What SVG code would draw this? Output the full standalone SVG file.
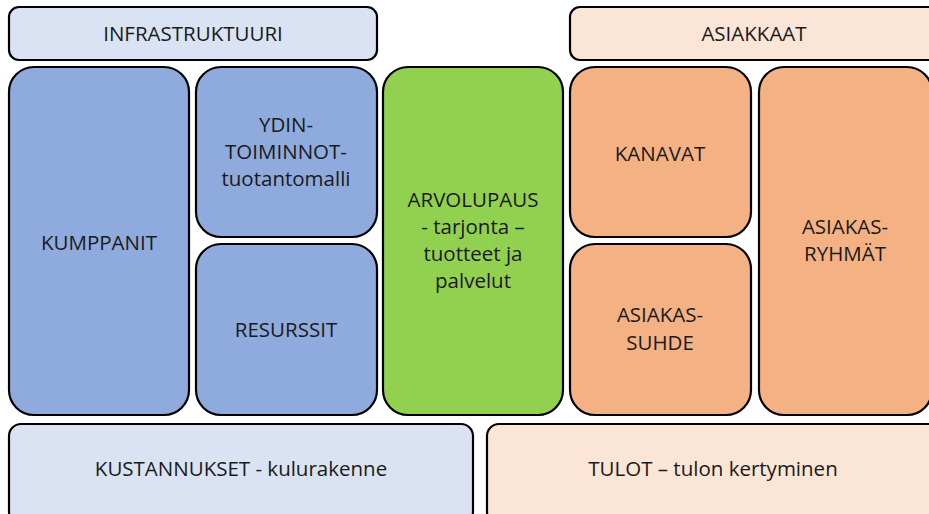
<svg xmlns="http://www.w3.org/2000/svg" width="929" height="514" viewBox="0 0 929 514">
<style>
rect{stroke:#000;stroke-width:2.2}
.lb{fill:#DAE3F3}.bl{fill:#8FAADC}.gr{fill:#92D050}.or{fill:#F4B183}.pe{fill:#FBE5D6}
text{font-family:"Open Sans","Liberation Sans",sans-serif;font-size:20.5px;fill:#1a1a1a;text-anchor:middle}
</style>
<rect width="929" height="514" fill="#fff" style="stroke:none"/>
<g id="infrastruktuuri"><rect class="lb" x="9" y="7" width="368" height="53" rx="10"/><text x="193" y="41">INFRASTRUKTUURI</text></g>
<g id="asiakkaat"><rect class="pe" x="570" y="7" width="372" height="53" rx="10"/><text x="754" y="41">ASIAKKAAT</text></g>
<g id="kumppanit"><rect class="bl" x="9" y="67" width="180" height="348" rx="25"/><text x="99" y="250">KUMPPANIT</text></g>
<g id="ydintoiminnot"><rect class="bl" x="196" y="67" width="181" height="170" rx="25"/><text x="286" y="132">YDIN-</text><text x="286" y="159">TOIMINNOT-</text><text x="286" y="186">tuotantomalli</text></g>
<g id="resurssit"><rect class="bl" x="196" y="244" width="181" height="171" rx="25"/><text x="286" y="337">RESURSSIT</text></g>
<g id="arvolupaus"><rect class="gr" x="383" y="67" width="180" height="348" rx="25"/><text x="473" y="207">ARVOLUPAUS</text><text x="473" y="234">- tarjonta –</text><text x="473" y="261">tuotteet ja</text><text x="473" y="288">palvelut</text></g>
<g id="kanavat"><rect class="or" x="570" y="67" width="181" height="170" rx="25"/><text x="660" y="161">KANAVAT</text></g>
<g id="asiakassuhde"><rect class="or" x="570" y="244" width="181" height="171" rx="25"/><text x="660" y="322">ASIAKAS-</text><text x="660" y="350">SUHDE</text></g>
<g id="asiakasryhmat"><rect class="or" x="759" y="67" width="173" height="348" rx="25"/><text x="845" y="234">ASIAKAS-</text><text x="845" y="261">RYHMÄT</text></g>
<g id="kustannukset"><rect class="lb" x="9" y="424" width="464" height="100" rx="12"/><text x="241" y="476">KUSTANNUKSET - kulurakenne</text></g>
<g id="tulot"><rect class="pe" x="487" y="424" width="460" height="100" rx="12"/><text x="713" y="476">TULOT – tulon kertyminen</text></g>
<g id="connectors"/>
</svg>
